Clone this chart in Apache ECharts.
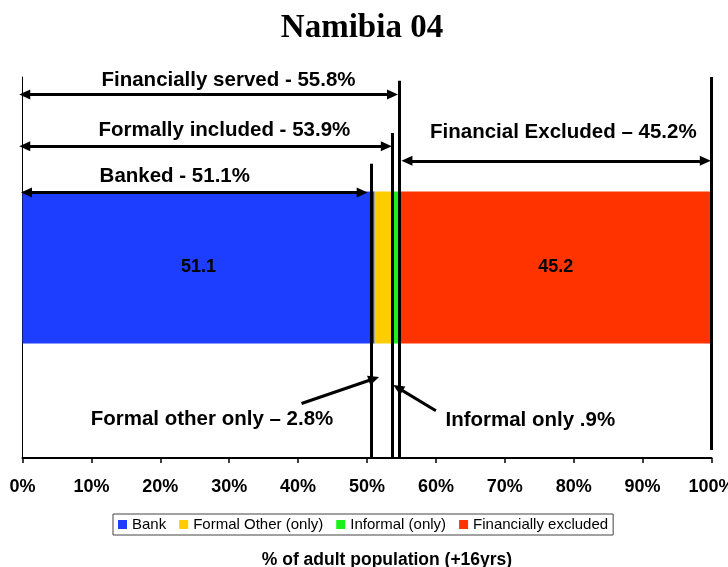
<!DOCTYPE html>
<html>
<head>
<meta charset="utf-8">
<title>Namibia 04</title>
<script src="https://cdn.jsdelivr.net/npm/echarts@6/dist/echarts.min.js"></script>
<style>
  html, body { margin: 0; padding: 0; background: #fff; overflow: hidden; }
  #chart-container { width: 728px; height: 567px; }
</style>
</head>
<body>
<div id="chart-container"></div>
<script>
// chart data
const categories = ['Namibia 04'];
const seriesNames = ['Bank', 'Formal Other (only)', 'Informal (only)', 'Financially excluded'];
const seriesValues = [51.1, 2.8, 0.9, 45.2];
const valueLabels = ['51.1', '', '', '45.2'];
const annotationTexts = [
    'Financially served - 55.8%',
    'Formally included - 53.9%',
    'Banked - 51.1%',
    'Financial Excluded \u2013 45.2%',
    'Formal other only \u2013 2.8%',
    'Informal only .9%'
];

window.addEventListener("load", function() {

const dom = document.getElementById('chart-container');
const myChart = echarts.init(dom, null, { renderer: 'canvas', useDirtyRect: false });

const font = 'Liberation Sans, Arial, sans-serif';
const colors = ['#1d3dff', '#ffcc00', '#1bf01b', '#ff3300'];

// annotation layout: x in % of the axis, y on a hidden 0-100 helper axis
// (arrow ends sit at the centre of the arrowhead)
const textPos = [[29.9, 99.2], [29.3, 86.1], [22.1, 74.0], [78.5, 85.6], [27.5, 10.2], [73.7, 10.0]];
const arrows = [
    [[0.33, 95.4], [53.7, 95.4], 'triangle', 'triangle'],
    [[0.33, 81.8], [52.8, 81.8], 'triangle', 'triangle'],
    [[0.58, 69.7], [49.3, 69.7], 'triangle', 'triangle'],
    [[55.8, 78.0], [99.1, 78.0], 'triangle', 'triangle'],
    [[40.5, 14.3], [51.0, 20.8], 'none', 'triangle'],
    [[60.0, 12.4], [54.5, 18.4], 'none', 'triangle'],
    [[50.6, 0], [50.6, 77.2], 'none', 'none'],
    [[53.7, 0], [53.7, 85.3], 'none', 'none'],
    [[54.7, 0], [54.7, 99.0], 'none', 'none'],
    [[100, 2.1], [100, 100], 'none', 'none']
];

const barSeries = seriesNames.map(function (name, i) {
    return {
        name: name,
        type: 'bar',
        stack: 'total',
        xAxisIndex: 0,
        yAxisIndex: 0,
        barWidth: 152,
        itemStyle: { color: colors[i] },
        label: {
            show: valueLabels[i] !== '',
            position: 'inside',
            formatter: valueLabels[i],
            color: '#000',
            fontWeight: 'bold',
            fontSize: 18,
            fontFamily: font
        },
        data: [seriesValues[i]]
    };
});

const annotationSeries = {
    type: 'scatter',
    xAxisIndex: 0,
    yAxisIndex: 1,
    symbolSize: 1,
    silent: true,
    itemStyle: { color: 'rgba(0,0,0,0)', opacity: 1 },
    label: {
        show: true,
        position: 'inside',
        color: '#000',
        fontWeight: 'bold',
        fontSize: 20.5,
        fontFamily: font,
        formatter: function (p) { return annotationTexts[p.dataIndex]; }
    },
    data: textPos,
    markLine: {
        silent: true,
        animation: false,
        symbolSize: [10, 11],
        label: { show: false },
        lineStyle: { color: '#000', width: 3, type: 'solid', opacity: 1 },
        emphasis: { disabled: true },
        data: arrows.map(function (a) {
            return [
                { coord: a[0], symbol: a[2] },
                { coord: a[1], symbol: a[3] }
            ];
        })
    }
};

const option = {
    animation: false,
    title: [
        {
            text: 'Namibia 04',
            left: 357,
            top: 7,
            textAlign: 'center',
            textStyle: { fontFamily: 'Liberation Serif, Times New Roman, serif', fontWeight: 'bold', fontSize: 33, color: '#000' }
        },
        {
            text: '% of adult population (+16yrs)',
            left: 382,
            top: 546,
            textAlign: 'center',
            textStyle: { fontFamily: font, fontWeight: 'bold', fontSize: 17.5, color: '#000' }
        }
    ],
    legend: {
        data: seriesNames,
        left: 113,
        top: 514,
        icon: 'rect',
        itemWidth: 9,
        itemHeight: 9,
        itemGap: 13,
        padding: [3, 5, 3, 5],
        borderColor: '#444',
        borderWidth: 1,
        textStyle: { fontFamily: font, fontSize: 15, color: '#000' }
    },
    grid: { left: 22.5, right: 16.5, top: 77, bottom: 109, containLabel: false, outerBoundsMode: 'none' },
    xAxis: {
        type: 'value',
        min: 0,
        max: 100,
        interval: 10,
        axisLine: { show: true, lineStyle: { color: '#000', width: 2 } },
        axisTick: { show: true, length: 5, lineStyle: { color: '#000', width: 1.5 } },
        splitLine: { show: false },
        axisLabel: {
            formatter: '{value}%',
            margin: 20,
            color: '#000',
            fontWeight: 'bold',
            fontSize: 18,
            fontFamily: font
        }
    },
    yAxis: [
        {
            type: 'category',
            data: categories,
            axisLine: { show: true, lineStyle: { color: '#000', width: 1 } },
            axisTick: { show: false },
            axisLabel: { show: false }
        },
        {
            type: 'value',
            min: 0,
            max: 100,
            show: false
        }
    ],
    series: barSeries.concat([annotationSeries])
};

if (option && typeof option === 'object') {
    myChart.setOption(option, true);
    myChart.resize();
}

});
</script>
</body>
</html>
